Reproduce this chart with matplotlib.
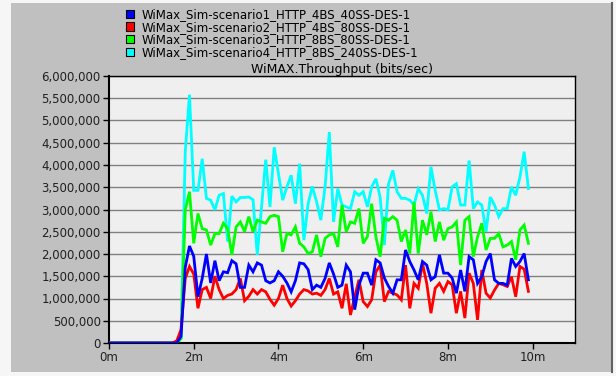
import matplotlib.pyplot as plt
import numpy as np
from matplotlib.patches import Patch, Rectangle
from matplotlib.lines import Line2D
from matplotlib.ticker import FuncFormatter, MultipleLocator

# sample times in minutes (one sample every 6 s once traffic starts)
minutes = [0.0, 1.5,
           1.6, 1.7, 1.8, 1.9,
           2.0, 2.1, 2.2, 2.3, 2.4, 2.5, 2.6, 2.7, 2.8, 2.9,
           3.0, 3.1, 3.2, 3.3, 3.4, 3.5, 3.6, 3.7, 3.8, 3.9,
           4.0, 4.1, 4.2, 4.3, 4.4, 4.5, 4.6, 4.7, 4.8, 4.9,
           5.0, 5.1, 5.2, 5.3, 5.4, 5.5, 5.6, 5.7, 5.8, 5.9,
           6.0, 6.1, 6.2, 6.3, 6.4, 6.5, 6.6, 6.7, 6.8, 6.9,
           7.0, 7.1, 7.2, 7.3, 7.4, 7.5, 7.6, 7.7, 7.8, 7.9,
           8.0, 8.1, 8.2, 8.3, 8.4, 8.5, 8.6, 8.7, 8.8, 8.9,
           9.0, 9.1, 9.2, 9.3, 9.4, 9.5, 9.6, 9.7, 9.8, 9.9]

# throughput in Mbit/s
scen1 = [0.0, 0.0,
         0.0, 0.15, 1.7, 2.18,
         1.95, 1.04, 1.45, 2.0, 1.35, 1.85, 1.4, 1.6, 1.58, 1.85,
         1.78, 1.25, 1.25, 1.75, 1.6, 1.8, 1.75, 1.4, 1.35, 1.4,
         1.6, 1.5, 1.35, 1.15, 1.4, 1.8, 1.78, 1.65, 1.2, 1.3,
         1.25, 1.45, 1.8, 1.55, 1.25, 1.3, 1.75, 1.6, 0.75, 1.3,
         1.57, 1.57, 1.3, 1.87, 1.8, 1.46, 1.27, 1.12, 1.42, 1.42,
         2.09, 1.83, 1.64, 1.42, 1.83, 1.75, 1.42, 1.49, 1.98, 1.57,
         1.57, 1.46, 1.12, 1.64, 1.16, 1.94, 1.87, 1.34, 1.49, 1.83,
         2.01, 1.42, 1.34, 1.34, 1.3, 1.9, 1.72, 1.83, 2.01, 1.42]

scen2 = [0.0, 0.0,
         0.05, 0.3, 1.45, 1.72,
         1.55, 0.78, 1.2, 1.25, 1.0, 1.5, 1.2, 1.0, 1.07, 1.1,
         1.2, 1.45, 0.95, 1.05, 1.2, 1.1, 1.2, 1.15, 0.98, 0.85,
         1.0, 1.3, 1.0, 0.83, 0.95, 1.1, 1.2, 1.17, 1.1, 1.12,
         1.07, 1.2, 1.45, 1.1, 1.15, 0.78, 1.33, 0.63, 1.04, 1.42,
         0.93, 0.82, 0.97, 1.6, 1.75, 0.93, 1.16, 1.12, 1.08, 0.97,
         1.75, 0.78, 1.34, 1.23, 1.79, 1.34, 0.67, 1.23, 1.34, 1.16,
         1.38, 1.31, 0.67, 1.16, 0.56, 1.57, 1.34, 0.52, 1.64, 1.12,
         1.01, 1.19, 1.34, 1.31, 1.27, 1.49, 1.04, 1.72, 1.66, 1.16]

scen3 = [0.0, 0.0,
         0.0, 0.1, 2.99, 3.4,
         2.24, 2.91, 2.57, 2.54, 2.2, 2.46, 2.46, 2.69, 2.57, 1.98,
         2.61, 2.72, 2.5, 2.84, 2.5, 2.76, 2.72, 2.69, 2.84, 2.87,
         2.84, 2.05, 2.46, 2.43, 2.61, 2.24, 2.16, 2.01, 2.05, 2.43,
         1.94, 2.35, 2.43, 2.46, 2.16, 3.1, 2.5, 2.72, 2.69, 3.02,
         2.24, 2.39, 3.13, 2.39, 1.94, 2.8, 2.76, 2.84, 2.76, 2.28,
         2.54, 2.01, 3.17, 2.01, 2.76, 2.43, 2.95, 2.28, 2.72, 2.31,
         2.57, 2.61, 2.72, 1.75, 2.76, 2.84, 1.94, 2.39, 2.69, 2.09,
         2.35, 2.35, 2.46, 2.16, 2.2, 2.28, 1.87, 2.54, 2.65, 2.24]

scen4 = [0.0, 0.0,
         0.0, 0.1, 4.3, 5.58,
         3.43, 3.43, 4.14, 3.25, 3.21, 2.99, 3.32, 3.36, 2.28, 3.3,
         3.17, 3.27, 3.27, 3.28, 3.22, 1.98, 3.05, 4.12, 3.06, 4.4,
         3.8, 3.21, 3.51, 3.77, 3.13, 4.03, 2.31, 3.13, 3.52, 3.17,
         2.76, 3.51, 4.74, 2.72, 3.47, 3.1, 3.06, 3.02, 3.4, 3.32,
         3.4, 3.06, 3.51, 3.69, 3.28, 2.2, 3.58, 3.88, 3.4, 3.25,
         3.25, 3.21, 3.1, 3.47, 3.32, 2.91, 3.96, 3.43, 2.99, 3.02,
         2.99, 3.51, 3.58, 3.1, 3.1, 4.1, 3.02, 3.17, 3.1, 2.5,
         3.28, 3.1, 2.84, 3.02, 3.02, 3.51, 3.32, 3.73, 4.3, 3.47]

labels = ["WiMax_Sim-scenario1_HTTP_4BS_40SS-DES-1",
          "WiMax_Sim-scenario2_HTTP_4BS_80SS-DES-1",
          "WiMax_Sim-scenario3_HTTP_8BS_80SS-DES-1",
          "WiMax_Sim-scenario4_HTTP_8BS_240SS-DES-1"]
colors = ["#0000ff", "#ff0000", "#00ff00", "#00ffff"]
x_ticks = [0, 2, 4, 6, 8, 10]
x_labels = ["0m", "2m", "4m", "6m", "8m", "10m"]

plt.rcParams['font.family'] = ['DejaVu Sans']
plt.rcParams['font.size'] = 8.5

W, H = 616, 376
fig = plt.figure(figsize=(W / 100, H / 100), dpi=100, facecolor='#f6f6f6')
fig.patches.append(Rectangle((11 / W, 4 / H), 601 / W, 369 / H, transform=fig.transFigure,
                             facecolor='#c0c0c0', edgecolor='none', zorder=-2))
fig.add_artist(Line2D([612 / W, 612 / W], [4 / H, 373 / H], color='#606060', lw=1.5))

ax = fig.add_axes([109 / W, 1 - 343 / H, (575 - 109) / W, (343 - 76) / H])
ax.set_facecolor('#efefef')

series = [scen1, scen2, scen3, scen4]
zorders = [5, 4, 3, 2]
t = np.array(minutes)
for vals, c, z in zip(series, colors, zorders):
    ax.plot(t, np.array(vals) * 1e6, color=c, lw=2.0, zorder=z, solid_joinstyle='miter')

ax.set_xlim(0, 11)
ax.set_ylim(0, 6e6)
ax.yaxis.set_major_locator(MultipleLocator(500000))
ax.yaxis.set_major_formatter(FuncFormatter(lambda v, p: f"{v:,.0f}"))
ax.set_xticks(x_ticks)
ax.set_xticklabels(x_labels)
ax.grid(axis='y', color='#808080', lw=1.0, zorder=1)
ax.tick_params(direction='out', length=4, width=1, colors='black', labelcolor='#202020',
               labelsize=8.5, pad=2)
for s in ax.spines.values():
    s.set_color('black')
    s.set_linewidth(1.0)
ax.spines['left'].set_linewidth(1.5)
ax.spines['bottom'].set_linewidth(1.5)

ax.set_title("WiMAX.Throughput (bits/sec)", fontsize=9, pad=2)

handles = [Patch(facecolor=c, edgecolor='black', lw=0.8) for c in colors]
fig.legend(handles, labels, loc='upper left', bbox_to_anchor=(126 / W, 1 - 8 / H),
           frameon=False, handlelength=0.7, handleheight=0.7, handletextpad=0.6,
           labelspacing=-0.03, borderpad=0, borderaxespad=0, fontsize=8.5)

fig.savefig("out.png", dpi=100, facecolor=fig.get_facecolor())
